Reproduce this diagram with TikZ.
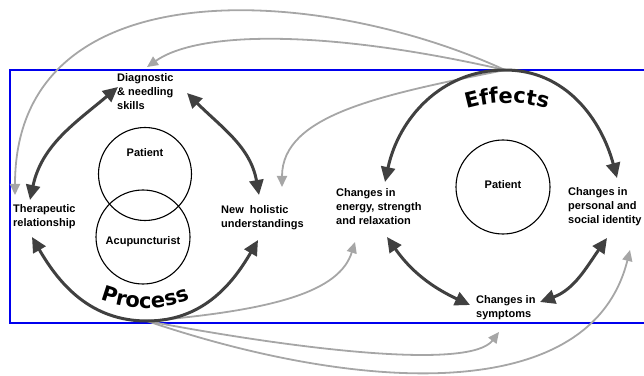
\documentclass[tikz,border=0pt]{standalone}
\usepackage{fontspec}
\setmainfont{Liberation Sans}
\newfontfamily\titlefont{DejaVu Sans}
\usetikzlibrary{arrows.meta,decorations.text}

\definecolor{arcgrey}{HTML}{404040}
\definecolor{linkgrey}{HTML}{A6A6A6}
\definecolor{boxblue}{HTML}{0000EE}

\tikzset{
  txt/.style={font=\bfseries\fontsize{11}{14}\selectfont, align=left, anchor=west, inner sep=0pt},
  ring/.style={line width=3pt, draw=arcgrey, {Triangle[length=15pt,width=14pt]}-{Triangle[length=15pt,width=14pt]}},
  link/.style={line width=1.8pt, draw=linkgrey, -{Triangle[length=11pt,width=10pt]}},
  actor/.style={circle, draw, line width=1.1pt, minimum size=93pt, inner sep=0pt},
  bend text/.style={decorate, decoration={text along path, text align=center,
      text={|\titlefont\fontsize{21}{21}\selectfont\bfseries|#1}}}
}

\begin{document}
\begin{tikzpicture}[x=1pt,y=1pt]
\useasboundingbox (0,0) rectangle (644,375);

% Frame
\draw[boxblue, line width=2.2pt] (10,52) rectangle (670,305);

% Circles
\node[actor] (pat1) at (145,201) {};
\node[txt, anchor=center] (pat1t) at (145,222) {Patient};
\node[actor, minimum size=94pt] (acu) at (143,138) {};
\node[txt, anchor=center] (acut) at (143,133) {Acupuncturist};
\node[actor, minimum size=94pt] (pat2) at (503,188) {};
\node[txt, anchor=center] (pat2t) at (503,190) {Patient};

% Labels
\node[txt] (diag) at (117,283) {Diagnostic\\\& needling\\skills};
\node[txt] (ther) at (13,158) {Therapeutic\\relationship};
\node[txt] (holis) at (221,157) {New\ \ holistic\\understandings};
\node[txt] (energy) at (336,168) {Changes in\\energy, strength\\and relaxation};
\node[txt] (ident) at (568,168) {Changes in\\personal and\\social identity};
\node[txt] (sympt) at (476,67) {Changes in\\symptoms};

% Arrow ends
\coordinate (ptl) at (30,175);
\coordinate (pdg) at (118,288);
\coordinate (pdr) at (187,282);
\coordinate (pnh) at (259,180);
\coordinate (ptb) at (32,138);
\coordinate (pbot) at (147,54);
\coordinate (pnb) at (258,135);
\coordinate (etl) at (385,193);
\coordinate (etop) at (505,305);
\coordinate (etr) at (617,197);
\coordinate (eel) at (387,138);
\coordinate (esl) at (470,70);
\coordinate (eir) at (607,137);
\coordinate (esr) at (540,73);

\coordinate (gther) at (15,180);
\coordinate (gdiag) at (147,308);
\coordinate (gholis) at (282,188);
\coordinate (genergy) at (355,133);
\coordinate (gsympt) at (499,43);
\coordinate (gident) at (630,125);

% Grey links from effects
\draw[link] (etop) .. controls (320,390) and (15,410) .. (gther);
\draw[link] (etop) .. controls (330,345) and (200,345) .. (gdiag);
\draw[link] (etop) .. controls (380,280) and (282,260) .. (gholis);

% Grey links from process
\draw[link] (pbot) .. controls (280,65) and (340,85) .. (genergy);
\draw[link] (pbot) .. controls (300,25) and (470,5) .. (gsympt);
\draw[link] (pbot) .. controls (350,-15) and (590,-35) .. (gident);

% Process cycle
\draw[ring] (ptl) to[out=78,in=220] (pdg);
\draw[ring] (pdr) to[out=-45,in=100] (pnh);
\draw[ring] (ptb) to[out=-60,in=180] (pbot) to[out=0,in=-120] (pnb);

% Effects cycle
\draw[ring] (etl) to[out=78,in=180] (etop) to[out=0,in=105] (etr);
\draw[ring] (eel) to[out=-55,in=155] (esl);
\draw[ring] (eir) to[out=-125,in=20] (esr);

% Curved titles
\path[bend text=Process] (84,83.3) arc[start angle=240, end angle=300, radius=122];
\path[bend text=Effects] (436,253) arc[start angle=120, end angle=60, radius=142];

\end{tikzpicture}
\end{document}
